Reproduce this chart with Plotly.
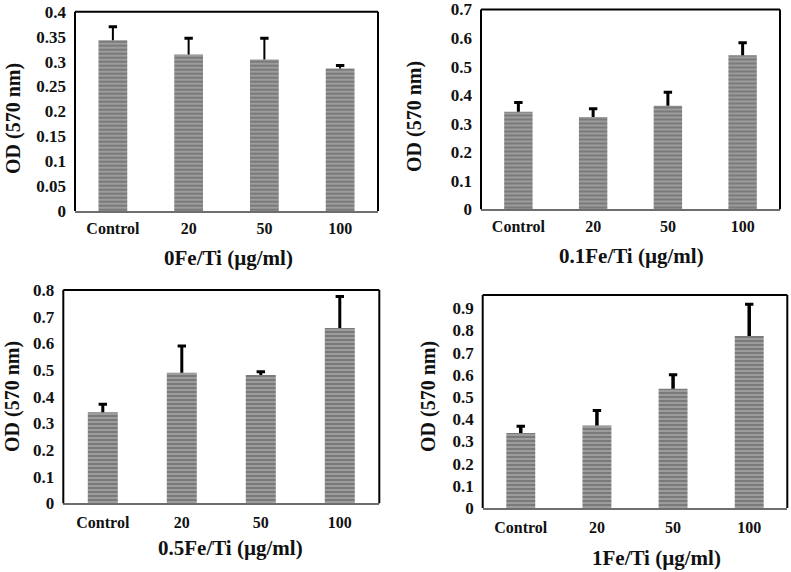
import plotly.graph_objects as go

# ---- data ----
categories = ["Control", "20", "50", "100"]

od_0fe = [0.343, 0.314, 0.304, 0.286]
err_0fe = [0.027, 0.033, 0.043, 0.006]

od_01fe = [0.342, 0.323, 0.363, 0.540]
err_01fe = [0.032, 0.029, 0.047, 0.044]

od_05fe = [0.342, 0.490, 0.481, 0.658]
err_05fe = [0.030, 0.100, 0.012, 0.118]

od_1fe = [0.338, 0.372, 0.538, 0.775]
err_1fe = [0.030, 0.068, 0.062, 0.143]

x_titles = ["0Fe/Ti (µg/ml)", "0.1Fe/Ti (µg/ml)", "0.5Fe/Ti (µg/ml)", "1Fe/Ti (µg/ml)"]
y_title = "OD (570 nm)"

# ---- layout geometry (pixels) ----
W, H = 791, 572
frames = [(75, 378, 11.7, 211), (481, 780, 9.5, 209.3),
          (63.3, 379.3, 290, 503.3), (482.7, 787.3, 295, 508)]
yranges = [0.4001, 0.7001, 0.8001, 0.96]
dticks = [0.05, 0.1, 0.1, 0.1]
xtitle_pos = [(228, 258), (631, 256), (230, 548), (656, 558)]
ytitle_pos = [(14, 119), (414, 117), (12, 397), (428, 397)]
xtick_standoff = [2, 2, 4, 4]
err_thick = [2, 3, 3, 3.5]

series = [(od_0fe, err_0fe), (od_01fe, err_01fe), (od_05fe, err_05fe), (od_1fe, err_1fe)]

FONT = "Liberation Serif"
fig = go.Figure()
shapes = []
annotations = []
for i, ((vals, errs), (l, r, t, b)) in enumerate(zip(series, frames)):
    n = "" if i == 0 else str(i + 1)
    fig.add_trace(go.Bar(
        x=categories, y=vals, width=0.38,
        xaxis="x" + n, yaxis="y" + n,
        marker=dict(color="#888888", line=dict(width=0),
                    pattern=dict(shape="-", bgcolor="#9c9c9c", fgcolor="#505050",
                                 size=4, solidity=0.45)),
        showlegend=False, hoverinfo="skip",
    ))
    # upper error bar: stem from bar top, cap only at the top
    tops = [v + e for v, e in zip(vals, errs)]
    fig.add_trace(go.Scatter(
        x=categories, y=tops, mode="markers",
        xaxis="x" + n, yaxis="y" + n,
        marker=dict(symbol="line-ew", size=6, color="black",
                    line=dict(color="black", width=3)),
        error_y=dict(type="data", symmetric=False, array=[0] * len(errs),
                     arrayminus=errs, color="black",
                     thickness=err_thick[i], width=0),
        showlegend=False, hoverinfo="skip",
    ))
    fig.layout["xaxis" + n] = dict(
        domain=[l / W, r / W], anchor="y" + n, type="category",
        showline=True, linecolor="#6e6e6e", linewidth=1.5,
        ticks="", showgrid=False, ticklabelstandoff=xtick_standoff[i],
        tickfont=dict(family=FONT, size=16, color="#111", weight="bold"),
    )
    fig.layout["yaxis" + n] = dict(
        domain=[1 - b / H, 1 - t / H], anchor="x" + n,
        range=[0, yranges[i]], dtick=dticks[i], tick0=0,
        showline=False, ticks="", showgrid=False, zeroline=False,
        ticklabelstandoff=8, ticklabeloverflow="allow",
        tickfont=dict(family=FONT, size=17, color="#111", weight="bold"),
    )
    xr = "x" + n + " domain"
    yr = "y" + n + " domain"
    for (x0, y0, x1, y1) in [(0, 0, 0, 1), (0, 1, 1, 1), (1, 1, 1, 0)]:
        shapes.append(dict(type="line", xref=xr, yref=yr, x0=x0, y0=y0, x1=x1, y1=y1,
                           line=dict(color="black", width=2)))
    annotations.append(dict(
        text=x_titles[i], xref="paper", yref="paper",
        x=xtitle_pos[i][0] / W, y=1 - xtitle_pos[i][1] / H,
        xanchor="center", yanchor="middle", showarrow=False,
        font=dict(family=FONT, size=21, color="#111", weight="bold")))
    annotations.append(dict(
        text=y_title, xref="paper", yref="paper",
        x=ytitle_pos[i][0] / W, y=1 - ytitle_pos[i][1] / H,
        xanchor="center", yanchor="middle", showarrow=False, textangle=-90,
        font=dict(family=FONT, size=20, color="#111", weight="bold")))

fig.update_layout(
    width=W, height=H, autosize=False,
    margin=dict(l=0, r=0, t=0, b=0, autoexpand=False),
    paper_bgcolor="white", plot_bgcolor="white",
    shapes=shapes, annotations=annotations,
)
fig.write_html("out.html", config={"displayModeBar": False},
               post_script="document.body.style.margin='0';document.body.style.overflow='hidden';")
